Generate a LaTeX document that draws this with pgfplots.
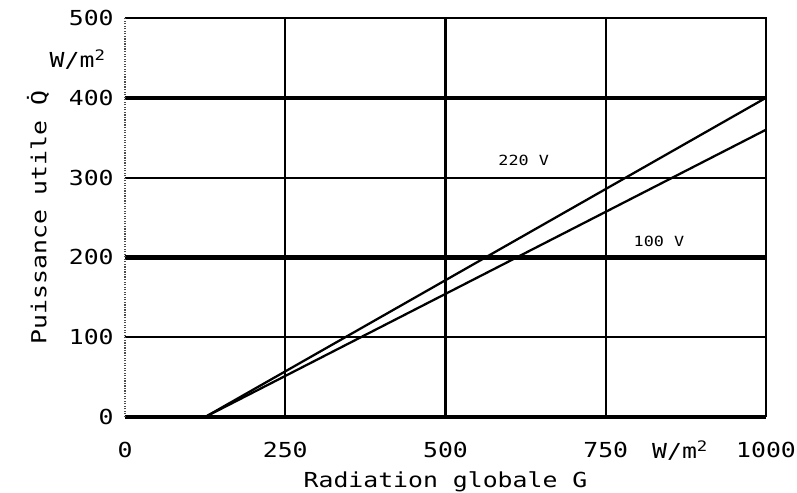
\documentclass[border=0pt]{standalone}
\usepackage{fontspec}
\setmainfont{DejaVu Sans Mono}[FakeStretch=1.2]
\usepackage{pgfplots}
\pgfplotsset{compat=1.18}
\begin{document}
\begin{tikzpicture}
\begin{axis}[
  scale only axis, width=480.75pt, height=299.25pt,
  xmin=0, xmax=1000, ymin=0, ymax=500,
  xtick={0,250,500,750,1000}, ytick={0,100,200,300,400,500},
  axis line style={draw=none}, major tick length=0pt,
  tick label style={font=\fontsize{15.5}{17}\selectfont},
  /pgf/number format/assume math mode=true,
  /pgf/number format/1000 sep={},
  xticklabel style={yshift=-15pt},
  yticklabel style={xshift=-5pt},
  xlabel={Radiation globale G},
  xlabel style={font=\fontsize{15.5}{17}\selectfont, yshift=-4pt},
  ylabel={Puissance utile \.{Q}},
  ylabel style={font=\fontsize{15.5}{17}\selectfont, yshift=8pt},
  clip=false,
]
% grid
\draw[line width=1.6pt] (axis cs:0,100)--(axis cs:1000,100);
\draw[line width=3.2pt] (axis cs:0,200)--(axis cs:1000,200);
\draw[line width=1.6pt] (axis cs:0,300)--(axis cs:1000,300);
\draw[line width=3.2pt] (axis cs:0,400)--(axis cs:1000,400);
\draw[line width=1.6pt] (axis cs:250,0)--(axis cs:250,500);
\draw[line width=1.6pt] (axis cs:500,0)--(axis cs:500,500);
\draw[line width=1.6pt] (axis cs:750,0)--(axis cs:750,500);
% frame
\draw[line width=1.8pt] (axis cs:0,500)--(axis cs:1000,500)--(axis cs:1000,0);
\draw[line width=3.2pt] (axis cs:0,0)--(axis cs:1000,0);
\draw[line width=0.9pt, densely dotted, black!70] (axis cs:0,0)--(axis cs:0,500);
% data
\addplot[black, line width=1.7pt] coordinates {(125,0) (1000,400)};
\addplot[black, line width=1.7pt] coordinates {(125,0) (1000,360)};
\node[font=\fontsize{10.5}{12}\selectfont] at (axis cs:622,322) {220 V};
\node[font=\fontsize{10.5}{12}\selectfont] at (axis cs:833,220) {100 V};
% units
\node[font=\fontsize{15.5}{17}\selectfont, anchor=east] at ([xshift=-11pt]axis cs:0,448) {W/m\textsuperscript{2}};
\node[font=\fontsize{15.5}{17}\selectfont] at ([yshift=-25pt]axis cs:866,0) {W/m\textsuperscript{2}};
\end{axis}
\pgfresetboundingbox
\path ([shift={(-93.75pt,-57pt)}]current axis.south west) rectangle ++(597.75pt,369.75pt);
\end{tikzpicture}
\end{document}
